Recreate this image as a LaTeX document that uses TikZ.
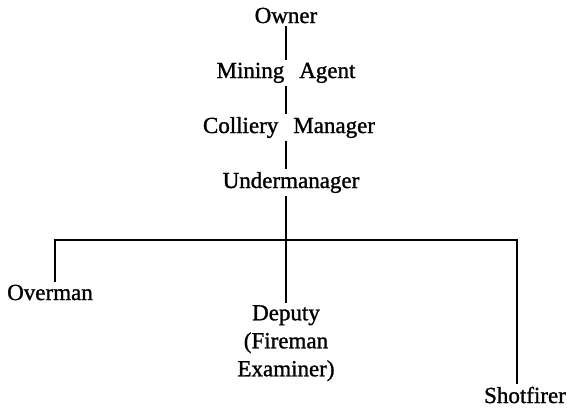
\documentclass[tikz,border=0pt]{standalone}
\usepackage{fontspec}
\setmainfont{Liberation Serif}[WordSpace=2.6, FakeBold=1.2]
\begin{document}
\begin{tikzpicture}[x=1pt, y=-1pt, every node/.style={inner sep=3pt, font=\fontsize{23}{28}\selectfont}]
            \useasboundingbox (0,0) rectangle (567,408);
            \node[anchor=base] (owner) at (286,23) {Owner};
            \node[anchor=base] (agent) at (286,78) {Mining Agent};
            \node[anchor=base] (manager) at (289,133) {Colliery Manager};
            \node[anchor=base] (under) at (291,188) {Undermanager};
            \node[anchor=base] (overman) at (50,300) {Overman};
            \node[anchor=north, align=center, inner sep=2pt] (deputy) at (286,303) {Deputy\\(Fireman\\Examiner)};
            \node[anchor=base] (shot) at (525,403) {Shotfirer};
            \coordinate (lft) at (55,240);
            \coordinate (rgt) at (517,240);
            
            \draw[line width=1.8pt, black] (owner.south -| 286,0) -- (agent.north -| 286,0);
            \draw[line width=1.8pt, black] (agent.south -| 286,0) -- (manager.north -| 286,0);
            \draw[line width=1.8pt, black] (manager.south -| 286,0) -- (under.north -| 286,0);
            \draw[line width=1.8pt, black] (under.south -| 286,0) -- (deputy.north);
            \draw[line width=1.8pt, black] (lft |- overman.north) -- (lft) -- (rgt) -- (rgt |- shot.north);
        \end{tikzpicture}
\end{document}
